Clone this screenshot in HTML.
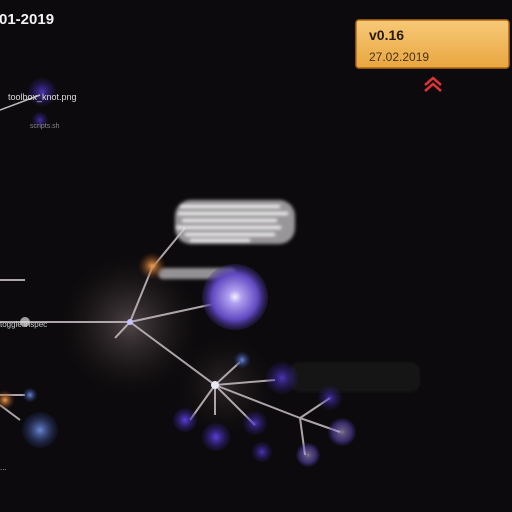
<!DOCTYPE html>
<html><head><meta charset="utf-8"><style>
html,body{margin:0;padding:0;background:#0c0a0c;width:512px;height:512px;overflow:hidden}
svg{display:block}
text{font-family:"Liberation Sans",sans-serif}
</style></head><body>
<svg width="512" height="512" viewBox="0 0 512 512">
<defs>
<radialGradient id="glow"><stop offset="0" stop-color="#6a5e60" stop-opacity="0.7"/><stop offset="1" stop-color="#2a2224" stop-opacity="0"/></radialGradient>
<radialGradient id="purple"><stop offset="0" stop-color="#f4f0ff"/><stop offset="0.2" stop-color="#b0a0f0"/><stop offset="0.7" stop-color="#6048c0"/><stop offset="1" stop-color="#3a2a80" stop-opacity="0.3"/></radialGradient>
<radialGradient id="blue"><stop offset="0" stop-color="#6a88d8"/><stop offset="1" stop-color="#1e2a60" stop-opacity="0.2"/></radialGradient>
<radialGradient id="violet"><stop offset="0" stop-color="#5a40e0"/><stop offset="1" stop-color="#2a1a70" stop-opacity="0.2"/></radialGradient>
<radialGradient id="orange"><stop offset="0" stop-color="#f0a050"/><stop offset="1" stop-color="#703010" stop-opacity="0"/></radialGradient>
<linearGradient id="box" x1="0" y1="0" x2="0" y2="1"><stop offset="0" stop-color="#f7c978"/><stop offset="1" stop-color="#e9a640"/></linearGradient>
<filter id="blur"><feGaussianBlur stdDeviation="1.5"/></filter>
</defs>
<rect width="512" height="512" fill="#0c0a0c"/>
<circle cx="130" cy="325" r="70" fill="url(#glow)"/>
<circle cx="225" cy="385" r="50" fill="url(#glow)" opacity="0.5"/>
<g stroke="#c8bfc4" stroke-width="2" opacity="0.85">
<line x1="0" y1="322" x2="130" y2="322"/>
<line x1="130" y1="322" x2="232" y2="300"/>
<line x1="130" y1="322" x2="152" y2="268"/>
<line x1="152" y1="268" x2="185" y2="228"/>
<line x1="130" y1="322" x2="115" y2="338"/>
<line x1="130" y1="322" x2="215" y2="385"/>
<line x1="215" y1="385" x2="275" y2="380"/>
<line x1="215" y1="385" x2="240" y2="362"/>
<line x1="215" y1="385" x2="190" y2="420"/>
<line x1="215" y1="385" x2="215" y2="415"/>
<line x1="215" y1="385" x2="255" y2="425"/>
<line x1="215" y1="385" x2="300" y2="418"/>
<line x1="300" y1="418" x2="330" y2="398"/>
<line x1="300" y1="418" x2="340" y2="432"/>
<line x1="300" y1="418" x2="305" y2="455"/>
<line x1="0" y1="395" x2="25" y2="395"/>
<line x1="0" y1="405" x2="20" y2="420"/>
<line x1="0" y1="280" x2="25" y2="280"/>
</g>
<g filter="url(#blur)">
<rect x="175" y="200" width="120" height="44" rx="16" fill="#c8c4c8" opacity="0.75"/>
<g fill="#f4f4f4">
<rect x="180" y="205" width="100" height="3"/><rect x="178" y="212" width="110" height="3"/>
<rect x="182" y="219" width="95" height="3"/><rect x="176" y="226" width="105" height="3"/>
<rect x="185" y="233" width="90" height="3"/><rect x="190" y="239" width="60" height="3"/>
</g>
<rect x="158" y="268" width="78" height="11" rx="5" fill="#cfcacf" opacity="0.7"/>
<rect x="290" y="362" width="130" height="30" rx="10" fill="#2a2428" opacity="0.35"/>
</g>
<circle cx="235" cy="297" r="33" fill="url(#purple)"/>
<circle cx="152" cy="266" r="14" fill="url(#orange)"/>
<circle cx="130" cy="322" r="3" fill="#c8c0ff"/>
<circle cx="215" cy="385" r="4" fill="#e8e8f0"/>
<circle cx="282" cy="378" r="16" fill="url(#violet)" opacity="0.8"/>
<circle cx="242" cy="360" r="8" fill="url(#blue)"/>
<circle cx="185" cy="420" r="12" fill="url(#violet)"/>
<circle cx="216" cy="437" r="14" fill="url(#violet)"/>
<circle cx="255" cy="423" r="12" fill="url(#violet)" opacity="0.8"/>
<circle cx="262" cy="452" r="10" fill="url(#violet)" opacity="0.8"/>
<circle cx="330" cy="398" r="12" fill="url(#violet)" opacity="0.7"/>
<circle cx="342" cy="432" r="14" fill="url(#purple)" opacity="0.5"/>
<circle cx="308" cy="455" r="12" fill="url(#purple)" opacity="0.5"/>
<circle cx="40" cy="430" r="18" fill="url(#blue)"/>
<circle cx="30" cy="395" r="7" fill="url(#blue)"/>
<circle cx="5" cy="400" r="10" fill="url(#orange)"/>
<circle cx="25" cy="322" r="5" fill="#ddd" opacity="0.7"/>
<circle cx="42" cy="92" r="14" fill="url(#violet)" opacity="0.8"/>
<circle cx="40" cy="120" r="8" fill="url(#violet)" opacity="0.7"/>
<line x1="0" y1="110" x2="40" y2="95" stroke="#bbb" stroke-width="1.5"/>
<text x="8" y="100" font-size="9" fill="#ddd">toolbox_knot.png</text>
<text x="30" y="128" font-size="7" fill="#888">scripts.sh</text>
<text x="0" y="327" font-size="8" fill="#ccc">toggle.inspec</text>
<text x="0" y="470" font-size="8" fill="#bbb">...</text>
<text x="-1" y="24" font-size="15" font-weight="bold" fill="#f2f2f2">01-2019</text>
<g>
<rect x="356" y="20" width="153" height="48" rx="3" fill="url(#box)" stroke="#b06a10" stroke-width="1.5"/>
<text x="369" y="40" font-size="14" font-weight="bold" fill="#2a1a08">v0.16</text>
<text x="369" y="61" font-size="12" fill="#4a3010">27.02.2019</text>
</g>
<g fill="none" stroke="#d33" stroke-width="2.5">
<polyline points="425,85 433,78 441,85"/>
<polyline points="425,91 433,84 441,91"/>
</g>
</svg>
</body></html>
